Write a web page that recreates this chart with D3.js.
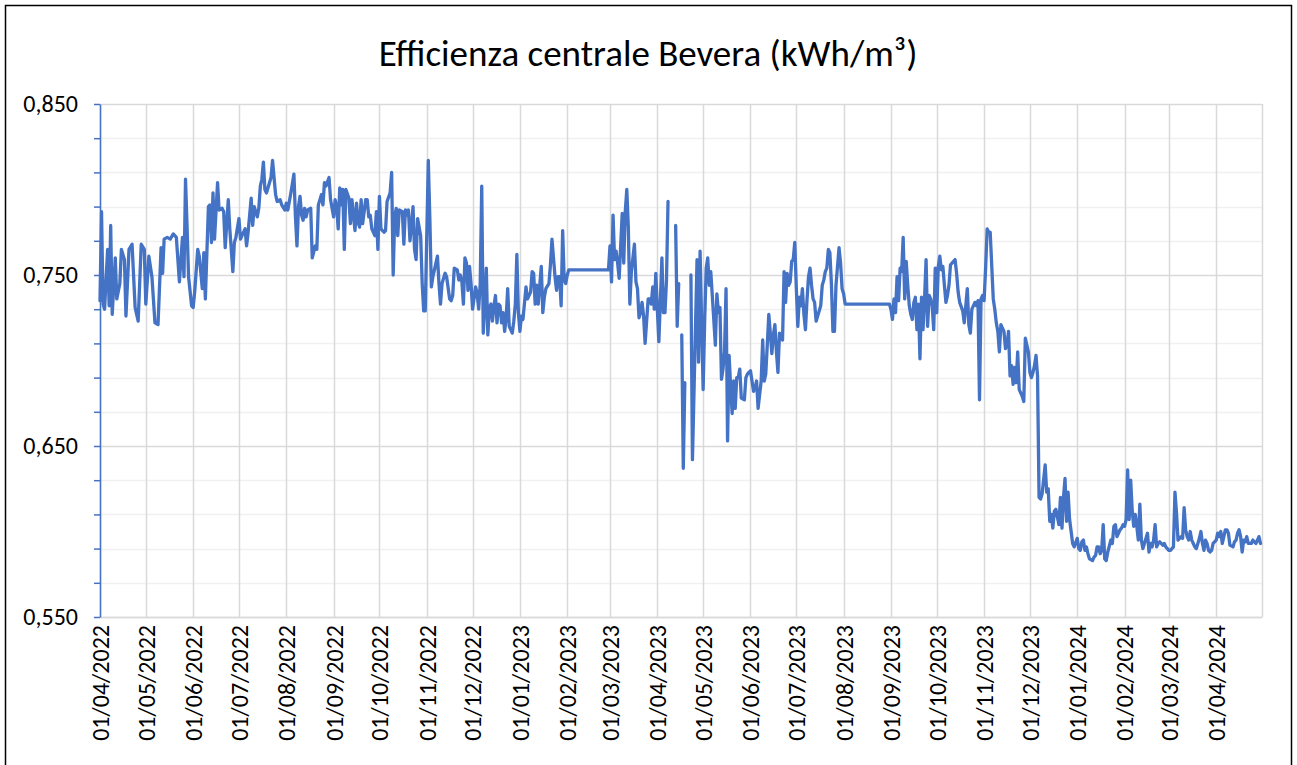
<!DOCTYPE html>
<html>
<head>
<meta charset="utf-8">
<script src="https://cdn.jsdelivr.net/npm/d3@7"></script>
<style>
  body { margin: 0; background: #fff; }
  #chart svg { display: block; }
</style>
</head>
<body>
<div id="chart"></div>
<script>
// Data
var chartTitle = 'Efficienza centrale Bevera (kWh/m³)';
var startDate = '2022-04-01';
var endDate = '2024-05-01';

// days after startDate (one row per month), null = no reading
var dayOffsets = [
  0,1,2,3,4,5,6,7,8,10,11,13,14,16,17,19,21,23,25,27,29,
  30,32,34,36,38,40,41,42,44,46,48,50,52,54,55,56,57,58,60,
  61,62,64,65,67,68,69,71,72,73,74,75,77,78,80,81,82,84,85,87,88,89,
  91,92,93,95,96,97,99,100,101,103,104,105,106,107,108,109,111,112,113,115,116,118,119,121,
  122,123,125,127,128,129,130,131,132,133,134,135,136,138,139,141,142,143,145,146,147,148,150,151,
  153,154,155,156,157,158,159,160,161,163,164,165,167,168,169,170,171,172,174,175,176,177,178,180,181,182,
  183,184,186,187,188,190,191,192,193,194,195,196,198,199,200,201,202,203,204,205,206,207,208,210,211,212,213,
  215,216,217,218,219,221,222,223,224,226,227,229,230,231,232,234,235,236,237,238,239,240,241,242,243,
  244,246,247,248,249,250,251,252,253,254,255,256,257,258,259,260,261,262,263,264,265,266,267,268,270,271,272,273,274,
  275,276,277,279,280,282,283,284,285,286,287,289,290,291,292,294,295,296,297,298,299,300,301,302,303,304,305,
  306,307,333,
  334,335,336,337,338,339,340,342,343,344,345,346,347,348,350,351,352,353,354,355,356,357,359,360,361,362,363,364,
  365,366,368,369,370,371,372,373,377,378,379,380,381,382,383,384,387,388,391,392,393,394,
  395,396,397,398,399,400,401,403,404,405,406,407,408,409,410,411,412,413,414,415,416,417,418,419,420,422,423,424,425,
  426,428,429,430,431,433,434,435,436,437,438,439,440,441,442,443,444,445,446,447,448,449,450,451,452,453,454,455,
  456,457,458,459,460,461,462,463,464,465,466,467,468,469,470,472,473,474,475,476,477,478,479,480,481,482,484,485,486,
  487,488,517,
  518,519,520,521,522,523,524,525,526,527,528,529,530,531,532,533,534,535,536,537,538,539,540,541,542,543,544,545,546,547,
  548,549,550,551,552,553,554,555,556,557,558,560,561,562,563,565,566,567,568,569,570,571,573,574,575,576,577,578,
  579,580,581,582,583,585,586,587,588,589,590,592,593,594,595,596,597,598,599,600,601,602,604,605,606,607,608,
  609,610,611,612,613,614,615,616,617,619,620,621,622,623,624,625,626,628,629,630,631,632,633,634,635,636,637,638,
  640,641,642,643,644,645,646,647,648,650,651,652,653,654,655,656,657,658,659,660,662,663,664,665,666,667,668,669,670,
  671,672,673,674,675,676,677,678,679,680,681,682,683,684,686,687,688,689,690,691,692,693,694,696,697,698,699,
  700,701,702,703,704,705,706,708,709,710,711,712,713,714,715,716,717,718,720,721,722,723,724,725,726,727,728,729,
  731,732,733,734,735,736,737,738,739,740,742,743,744,745,746,747,748,749,750,751,752,754,755,756,757,758,759,760
];

// kWh/m3, same rows as dayOffsets
var efficiency = [
  0.735,0.787,0.733,0.730,0.748,0.765,0.732,0.779,0.727,0.760,0.736,0.745,0.765,0.759,0.726,0.765,0.768,0.731,0.723,0.768,0.765,
  0.733,0.761,0.749,0.722,0.721,0.766,0.751,0.771,0.772,0.771,0.774,0.772,0.746,0.772,0.749,0.806,0.779,0.749,0.732,
  0.731,0.740,0.765,0.761,0.742,0.763,0.736,0.790,0.791,0.769,0.798,0.771,0.804,0.788,0.789,0.787,0.766,0.794,0.777,0.752,0.769,0.772,
  0.783,0.771,0.773,0.777,0.767,0.775,0.795,0.779,0.790,0.784,0.789,0.802,0.806,0.816,0.800,0.798,0.804,0.807,0.817,0.797,0.793,0.794,0.791,0.788,
  0.792,0.788,0.798,0.809,0.784,0.767,0.790,0.796,0.785,0.782,0.789,0.784,0.788,0.789,0.760,0.767,0.765,0.791,0.797,0.791,0.804,0.802,0.807,0.794,
  0.784,0.794,0.790,0.777,0.801,0.791,0.800,0.765,0.800,0.795,0.780,0.794,0.776,0.792,0.781,0.778,0.794,0.780,0.794,0.794,0.784,0.785,0.777,0.773,0.787,0.765,
  0.796,0.777,0.775,0.776,0.793,0.798,0.810,0.750,0.784,0.789,0.773,0.788,0.787,0.768,0.788,0.785,0.788,0.770,0.779,0.790,0.765,0.759,0.783,0.773,0.745,0.729,0.729,
  0.817,0.784,0.743,0.749,0.753,0.761,0.745,0.733,0.745,0.751,0.749,0.736,0.735,0.738,0.754,0.753,0.747,0.750,0.746,0.733,0.760,0.757,0.741,0.755,0.745,
  0.730,0.743,0.739,0.730,0.745,0.802,0.716,0.732,0.754,0.715,0.731,0.733,0.723,0.732,0.738,0.722,0.733,0.732,0.722,0.728,0.717,0.725,0.742,0.720,0.716,0.723,0.733,0.762,0.728,
  0.717,0.726,0.724,0.743,0.736,0.740,0.752,0.751,0.733,0.744,0.733,0.755,0.728,0.737,0.742,0.745,0.756,0.771,0.760,0.749,0.741,0.749,0.749,0.732,0.776,0.747,0.745,
  0.750,0.753,0.753,
  0.767,0.746,0.785,0.759,0.764,0.757,0.748,0.786,0.757,0.787,0.800,0.778,0.733,0.752,0.768,0.746,0.742,0.725,0.728,0.734,0.726,0.710,0.736,0.736,0.733,0.743,0.730,0.751,
  0.730,0.711,0.760,0.728,0.728,0.747,0.793,null,0.779,0.720,0.745,null,0.715,0.637,0.687,null,0.750,0.642,0.759,0.699,0.764,0.723,
  0.683,0.723,0.754,0.760,0.744,0.752,0.738,0.709,0.739,0.728,0.731,0.689,0.695,0.705,0.742,0.653,0.703,0.685,0.669,0.688,0.672,0.690,0.690,0.695,0.678,0.677,0.690,0.692,0.693,
  0.694,0.682,0.684,0.688,0.672,0.688,0.712,0.688,0.692,0.709,0.727,0.716,0.704,0.715,0.721,0.705,0.693,0.716,0.714,0.712,0.752,0.734,0.751,0.744,0.746,0.758,0.759,0.769,
  0.743,0.720,0.737,0.732,0.742,0.727,0.718,0.735,0.749,0.754,0.744,0.736,0.734,0.723,0.726,0.732,0.744,0.747,0.752,0.754,0.765,0.763,0.745,0.717,0.717,0.744,0.766,0.757,0.742,
  0.739,0.733,0.733,
  0.730,0.724,0.736,0.728,0.749,0.735,0.754,0.752,0.772,0.736,0.758,0.744,0.732,0.727,0.724,0.734,0.737,0.718,0.733,0.701,0.737,0.718,0.736,0.759,0.720,0.738,0.736,0.732,0.718,0.754,
  0.728,0.755,0.761,0.753,0.755,0.744,0.734,0.738,0.744,0.756,0.757,0.759,0.751,0.740,0.734,0.729,0.722,0.732,0.742,0.721,0.716,0.730,0.734,0.732,0.735,0.677,0.736,0.738,
  0.735,0.754,0.777,0.775,0.775,0.736,0.730,0.722,0.717,0.705,0.721,0.717,0.707,0.709,0.717,0.691,0.697,0.686,0.696,0.687,0.705,0.683,0.679,0.676,0.713,0.709,0.705,
  0.693,0.690,0.693,0.697,0.703,0.691,0.620,0.619,0.622,0.639,0.623,0.625,0.606,0.610,0.602,0.612,0.613,0.604,0.620,0.602,0.620,0.631,0.606,0.623,0.607,0.600,0.593,0.591,
  0.596,0.590,0.589,0.594,0.595,0.589,0.591,0.587,0.584,0.583,0.585,0.586,0.591,0.591,0.587,0.589,0.604,0.584,0.583,0.588,0.595,0.593,0.603,0.604,0.597,0.599,0.601,0.602,0.604,
  0.603,0.607,0.636,0.607,0.630,0.612,0.603,0.610,0.603,0.595,0.616,0.595,0.590,0.593,0.599,0.588,0.593,0.591,0.595,0.604,0.591,0.593,0.594,0.592,0.593,0.591,0.590,
  0.589,0.589,0.590,0.591,0.623,0.611,0.595,0.597,0.596,0.614,0.601,0.597,0.595,0.600,0.595,0.593,0.591,0.590,0.596,0.600,0.593,0.589,0.595,0.593,0.589,0.588,0.589,0.593,
  0.595,0.599,0.597,0.600,0.593,0.597,0.601,0.601,0.599,0.592,0.591,0.594,0.595,0.599,0.601,0.597,0.588,0.595,0.594,0.597,0.593,0.593,0.595,0.594,0.593,0.595,0.597,0.593
];

var yLabelValues = [0.55, 0.65, 0.75, 0.85];
var yMinorStep = 0.02;

//   Base
var width = 1297, height = 765;
var margin = {top: 104, right: 35, bottom: 148, left: 100};
var plotW = width - margin.left - margin.right,
    plotH = height - margin.top - margin.bottom;
var fontStack = 'Carlito, Calibri, Lato, sans-serif';

var parseDate = d3.timeParse('%Y-%m-%d');
var t0 = parseDate(startDate), t1 = parseDate(endDate);

var data = dayOffsets.map(function(d, i) {
  return {date: d3.timeDay.offset(t0, d), value: efficiency[i]};
});
if (dayOffsets.length !== efficiency.length) console.log('length mismatch');

var itLocale = d3.formatLocale({decimal: ',', thousands: '.', grouping: [3], currency: ['€', '']});
var yFormat = itLocale.format('.3f');
var xFormat = d3.timeFormat('%d/%m/%Y');

// append
var svg = d3.select('#chart').append('svg')
    .attr('width', width)
    .attr('height', height)
    .style('font-family', fontStack);

svg.append('rect')
    .attr('width', width).attr('height', height)
    .style('fill', '#fff');

// chart frame (bottom edge runs off the page)
svg.append('rect')
    .attr('x', 5.5).attr('y', 5.5)
    .attr('width', 1286).attr('height', 800)
    .style('fill', 'none')
    .style('stroke', '#000')
    .style('stroke-width', 1.5);

svg.append('text')
    .attr('x', 648)
    .attr('y', 66)
    .attr('text-anchor', 'middle')
    .style('font-size', '37px')
    .style('fill', '#000')
    .text(chartTitle);

var xScale = d3.scaleTime()
    .domain([t0, t1])
    .range([0, plotW]);

var yScale = d3.scaleLinear()
    .domain([0.55, 0.85])
    .range([plotH, 0]);

var g = svg.append('g')
    .attr('transform', 'translate(' + margin.left + ',' + margin.top + ')');

// gridlines
var minorVals = d3.range(0, 16).map(function(i) { return +(0.55 + i * yMinorStep).toFixed(2); });
g.append('g').selectAll('line')
    .data(minorVals.filter(function(v) { return yLabelValues.indexOf(v) < 0; }))
    .enter().append('line')
    .attr('x1', 0).attr('x2', plotW)
    .attr('y1', function(d) { return Math.round(yScale(d)) + 0.5; })
    .attr('y2', function(d) { return Math.round(yScale(d)) + 0.5; })
    .style('stroke', '#f0f0f0')
    .style('stroke-width', 1.5);

var monthLines = d3.timeMonth.range(t0, d3.timeDay.offset(t1, 1));
g.append('g').selectAll('line')
    .data(monthLines)
    .enter().append('line')
    .attr('x1', function(d) { return Math.round(xScale(d)) + 0.5; })
    .attr('x2', function(d) { return Math.round(xScale(d)) + 0.5; })
    .attr('y1', 0).attr('y2', plotH)
    .style('stroke', '#d9d9d9')
    .style('stroke-width', 1.5);

g.append('g').selectAll('line')
    .data(yLabelValues)
    .enter().append('line')
    .attr('x1', 0).attr('x2', plotW)
    .attr('y1', function(d) { return Math.round(yScale(d)) + 0.5; })
    .attr('y2', function(d) { return Math.round(yScale(d)) + 0.5; })
    .style('stroke', '#d9d9d9')
    .style('stroke-width', 1.5);

// x axis
var xAxis = g.append('g')
    .attr('transform', 'translate(0,' + plotH + ')')
    .call(d3.axisBottom(xScale)
      .tickValues(d3.timeMonth.range(t0, t1))
      .tickFormat(xFormat)
      .tickSize(0));
xAxis.select('.domain').style('stroke', '#d9d9d9').style('stroke-width', 1.5);
xAxis.selectAll('text')
    .attr('transform', 'rotate(-90)')
    .attr('x', -8)
    .attr('y', 0)
    .attr('dy', '0.35em')
    .attr('text-anchor', 'end')
    .style('font-family', fontStack)
    .style('font-size', '24px')
    .style('fill', '#000');

// y axis
var yAxis = g.append('g')
    .call(d3.axisLeft(yScale)
      .tickValues(minorVals)
      .tickFormat(function(d) { return yLabelValues.indexOf(d) >= 0 ? yFormat(d) : ''; })
      .tickSize(6)
      .tickSizeOuter(0)
      .tickPadding(16));
yAxis.select('.domain').style('stroke', '#4472c4').style('stroke-width', 1.5);
yAxis.selectAll('line').style('stroke', '#4472c4').style('stroke-width', 1.5);
yAxis.selectAll('text')
    .style('font-family', fontStack)
    .style('font-size', '24px')
    .style('fill', '#000');

// Bind and Flow
var line = d3.line()
    .defined(function(d) { return d.value !== null; })
    .x(function(d) { return xScale(d.date); })
    .y(function(d) { return yScale(d.value); });

g.append('path')
    .datum(data)
    .attr('d', line)
    .style('fill', 'none')
    .style('stroke', '#4472c4')
    .style('stroke-width', 3.3)
    .style('stroke-linejoin', 'round')
    .style('stroke-linecap', 'round');
</script>
</body>
</html>
